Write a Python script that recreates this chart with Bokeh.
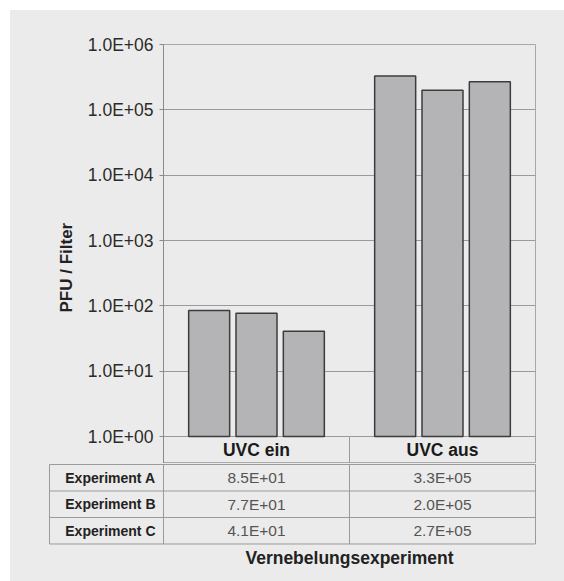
import math
from bokeh.plotting import figure
from bokeh.models import (ColumnDataSource, FactorRange, Range1d, FixedTicker,
                          CustomJSTickFormatter, Title)
from bokeh.layouts import column
from bokeh.transform import dodge
from bokeh.core.properties import value
from bokeh.embed import file_html
from bokeh.resources import INLINE

# ---------------- data ----------------
categories = ["UVC ein", "UVC aus"]
experiments = ["Experiment A", "Experiment B", "Experiment C"]
uvc_ein = [85, 77, 41]
uvc_aus = [3.3e5, 2.0e5, 2.7e5]
y_ticks = [1, 10, 100, 1000, 10000, 100000, 1000000]
y_label = "PFU / Filter"
x_label = "Vernebelungsexperiment"

# ---------------- style ----------------
BG = "#ebebeb"
FONT = "Liberation Sans"
BAR_FILL = "#b4b4b6"
BAR_LINE = "#3c3c3c"
GRID = "#9a9a9a"

groups = [uvc_ein, uvc_aus]
cols = {f"e{i}": [g[i] for g in groups] for i in range(len(experiments))}
src = ColumnDataSource(dict(cat=categories, **cols))

ncat = len(categories)
nexp = len(experiments)

# header row (category names) lives just below the log axis: 27px of 65.33px/decade
hdr_dec = 27 / (392 / 6)
y_lo = y_ticks[0] * 10 ** (-hdr_dec)

p = figure(x_range=FactorRange(*categories), y_axis_type="log",
           y_range=Range1d(y_lo, y_ticks[-1]),
           width=554, height=453, output_backend="svg", toolbar_location=None,
           min_border_left=153, min_border_right=29, min_border_top=34,
           min_border_bottom=0, background_fill_color=BG, border_fill_color=BG,
           outline_line_color="#a8a8a8")
p.frame_align = False

offsets = [-0.2545, 0.0, 0.2545]
for i in range(nexp):
    p.vbar(x=dodge("cat", offsets[i], range=p.x_range), top=f"e{i}", bottom=y_ticks[0],
           width=0.2204, source=src, fill_color=BAR_FILL, line_color=BAR_LINE,
           line_width=1.5)

p.yaxis.ticker = FixedTicker(ticks=y_ticks)
p.yaxis.formatter = CustomJSTickFormatter(code="""
const e = Math.round(Math.log10(tick));
const m = tick / Math.pow(10, e);
const a = Math.abs(e);
return m.toFixed(1) + "E" + (e < 0 ? "-" : "+") + (a < 10 ? "0" + a : "" + a);
""")
p.yaxis.major_label_text_font = FONT
p.yaxis.major_label_text_font_size = "17.5px"
p.yaxis.major_label_text_color = "#2b2b2b"
p.yaxis.axis_line_color = "#8a8a8a"
p.yaxis.major_tick_line_color = "#8a8a8a"
p.yaxis.major_tick_out = 4
p.yaxis.major_tick_in = 0
p.yaxis.minor_tick_line_color = None
p.yaxis.major_label_standoff = 6
p.xaxis.visible = False
p.xgrid.visible = False
p.ygrid.grid_line_color = GRID

# header row: separators and category names
p.segment(x0=list(range(ncat + 1)), y0=[y_lo] * (ncat + 1),
          x1=list(range(ncat + 1)), y1=[y_ticks[0]] * (ncat + 1),
          line_color=GRID, line_width=1)
p.text(x=[j + 0.5 for j in range(ncat)], y=[y_ticks[0] * 10 ** (-hdr_dec / 2)] * ncat,
       text=categories, text_font=value(FONT), text_font_style="bold",
       text_font_size="17.5px", text_align="center", text_baseline="middle",
       text_color="#1a1a1a")

p.add_layout(Title(text=y_label, align="left", offset=151, text_font=FONT,
                   text_font_style="bold", text_font_size="17px",
                   text_color="#222222", standoff=18), "left")

# ---------------- table ----------------
lw = 0.613  # width of the row-label column in category units
t = figure(x_range=Range1d(-lw - 0.0054, ncat + 0.0054),
           y_range=Range1d(-0.0377 + 118 / 26.5, -0.0377),
           width=554, height=118, output_backend="svg", toolbar_location=None,
           min_border_left=38, min_border_right=28, min_border_top=0,
           min_border_bottom=0, background_fill_color=BG, border_fill_color=BG,
           outline_line_color=None)
t.frame_align = False
t.xaxis.visible = False
t.yaxis.visible = False
t.xgrid.visible = False
t.ygrid.visible = False

h_y = list(range(nexp + 1))
t.segment(x0=[-lw] * (nexp + 1), y0=h_y, x1=[ncat] * (nexp + 1), y1=h_y,
          line_color=GRID, line_width=1)
v_x = [-lw] + list(range(ncat + 1))
t.segment(x0=v_x, y0=[0] * (ncat + 2), x1=v_x, y1=[nexp] * (ncat + 2),
          line_color=GRID, line_width=1)

t.text(x=[0] * nexp, y=[i + 0.5 for i in range(nexp)], text=experiments, x_offset=-8,
       text_font=value(FONT), text_font_style="bold", text_font_size="14px",
       text_align="right", text_baseline="middle", text_color="#222222")
vx, vy, vt = [], [], []
for j, g in enumerate(groups):
    for i, v in enumerate(g):
        vx.append(j + 0.5)
        vy.append(i + 0.5)
        vt.append(f"{v:.1E}")
t.text(x=vx, y=vy, text=vt, text_font=value(FONT), text_font_size="15.5px",
       text_align="center", text_baseline="middle", text_color="#555555")

t.text(x=[ncat / 2], y=[nexp + 0.547], text=[x_label], text_font=value(FONT),
       text_font_style="bold", text_font_size="17.5px", text_align="center",
       text_baseline="middle", text_color="#222222")

layout = column(p, t, spacing=0, margin=(10, 0, 0, 10),
                styles={"background-color": BG})
open("out.html", "w").write(file_html(layout, INLINE))
